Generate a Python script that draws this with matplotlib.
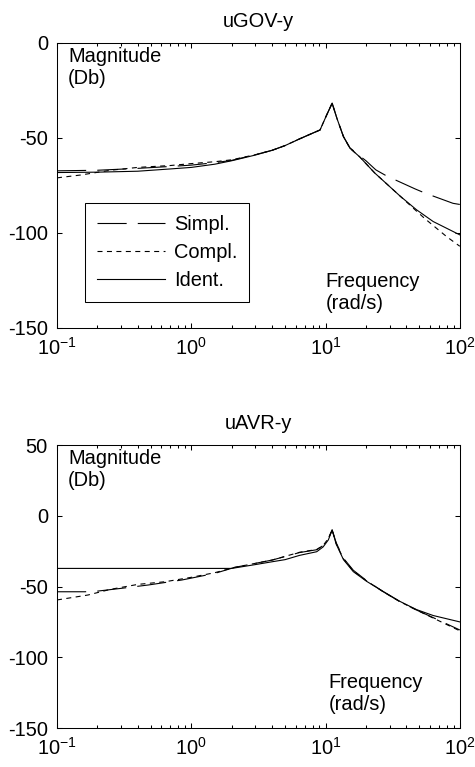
import matplotlib
matplotlib.use('Agg')
import matplotlib.pyplot as plt

plt.rcParams['font.family'] = ['Liberation Sans', 'DejaVu Sans']
plt.rcParams['font.size'] = 14.4
plt.rcParams['axes.unicode_minus'] = False
plt.rcParams['lines.scale_dashes'] = False
plt.rcParams['mathtext.default'] = 'regular'

# --- uGOV-y (magnitude in dB vs frequency in rad/s) ---
gov_simpl_w = [0.1, 0.2, 0.4, 0.7, 1, 1.5, 2, 3, 4, 5, 6.4, 8, 9.1, 10.2, 11.2,
               12.2, 13.6, 15.2, 18, 20, 23.7, 28.5, 46.4, 55, 89, 100]
gov_simpl_db = [-67.3, -67, -66, -65, -64.3, -63, -61.8, -58.8, -56.5, -54, -50.5, -47.5, -45.8, -37.9, -31.7,
                -40, -49.3, -55.2, -59.5, -62, -66.8, -70, -76.8, -79, -84.4, -85]

gov_compl_w = [0.1, 0.15, 0.25, 0.4, 0.7, 1, 1.5, 2, 3, 4, 5, 6.4, 8, 9.1, 10.2, 11.2,
               12.2, 13.6, 15.2, 18, 20, 23.3, 26.9, 35.8, 47.6, 55, 80, 100]
gov_compl_db = [-71, -69.5, -67, -65.5, -64.5, -63.5, -62.5, -61.5, -58.8, -56.5, -54, -50.5, -47.5, -45.8, -37.9, -31.7,
                -40, -49.3, -55.4, -60, -63.5, -68.5, -72.5, -80.5, -88.5, -92.5, -102, -107]

gov_ident_w = [0.1, 0.2, 0.4, 0.7, 1, 1.5, 2, 3, 4, 5, 6.4, 8, 9.1, 10.2, 11.2,
               12.2, 13.6, 15.2, 18, 20, 23.3, 26.9, 35.8, 47.6, 63.4, 100]
gov_ident_db = [-68.2, -68, -67.5, -66.3, -65.5, -63.8, -62, -59, -56.5, -54, -50.5, -47.5, -45.8, -37.9, -31.7,
                -40, -49.3, -55.4, -60, -63.5, -68.5, -72.5, -80.5, -87.8, -94, -101]

# --- uAVR-y ---
avr_simpl_w = [0.1, 0.16, 0.19, 0.3, 0.48, 0.85, 1.5, 2.1, 4, 6.4, 8.6, 9.6, 10.5, 11.2,
               12, 13.6, 16.1, 20.2, 26.9, 35.8, 47.6, 63.4, 100]
avr_simpl_db = [-53.7, -53.7, -53.5, -51.3, -48.9, -45.4, -40.7, -36.5, -31.3, -26, -24, -21, -16, -10,
                -19, -30, -38.5, -45.8, -53.7, -60.7, -66.6, -72, -80.7]

avr_compl_w = [0.1, 0.17, 0.25, 0.4, 0.64, 1, 1.5, 2.1, 4, 6.4, 8.6, 9.6, 10.5, 11.2,
               12, 13.6, 16.1, 20.2, 26.9, 35.8, 47.6, 63.4, 100]
avr_compl_db = [-59.5, -56, -52, -48.5, -46.6, -43.5, -40.2, -36.5, -31.3, -25.8, -23.8, -21, -16, -10,
                -19.5, -30.5, -39, -46, -53.7, -60.7, -66.6, -72.3, -81.3]

avr_ident_w = [0.1, 2.0, 3, 4, 5, 6.4, 8.6, 9.6, 10.5, 11.2,
               12, 13.6, 16.1, 20.2, 26.9, 35.8, 47.6, 63.4, 100]
avr_ident_db = [-37.2, -37.2, -34.5, -32.5, -31, -28, -25.4, -22, -17, -10,
                -20, -31, -39.5, -46.3, -53.5, -60.5, -66.3, -70.5, -75]

labels = ['Simpl.', 'Compl.', 'Ident.']
styles = [(0, (21, 8)), (0, (3.6, 3.2)), '-']


def setup(ax, title, ylim, yticks, freq_xy):
    ax.set_xscale('log')
    ax.set_xlim(0.1, 100)
    ax.set_ylim(*ylim)
    ax.set_yticks(yticks)
    ax.set_title(title, pad=11.5, fontsize=14.4)
    ax.tick_params(which='both', direction='in', top=True, right=True, width=0.75)
    ax.tick_params(which='major', length=3.5)
    ax.tick_params(which='minor', length=2.5)
    ax.tick_params(axis='y', pad=6.5)
    ax.tick_params(axis='x', pad=6.5)
    for s in ax.spines.values():
        s.set_linewidth(0.75)
    ax.text(0.027, 0.986, 'Magnitude\n(Db)', transform=ax.transAxes, va='top', ha='left')
    ax.text(freq_xy[0], freq_xy[1], 'Frequency\n(rad/s)', va='top', ha='left')


fig = plt.figure(figsize=(4.75, 7.67), dpi=100)
ax1 = fig.add_axes([0.12, 0.5724, 0.848, 0.3716])
ax2 = fig.add_axes([0.12, 0.0508, 0.848, 0.369])

gov = [(gov_simpl_w, gov_simpl_db), (gov_compl_w, gov_compl_db), (gov_ident_w, gov_ident_db)]
avr = [(avr_simpl_w, avr_simpl_db), (avr_compl_w, avr_compl_db), (avr_ident_w, avr_ident_db)]

for (w, db), lab, ls in zip(gov, labels, styles):
    ax1.plot(w, db, color='black', linestyle=ls, linewidth=0.8, label=lab)
for (w, db), lab, ls in zip(avr, labels, styles):
    ax2.plot(w, db, color='black', linestyle=ls, linewidth=0.8, label=lab)

setup(ax1, 'uGOV-y', (-150, 0), [-150, -100, -50, 0], (10, -120.5))
setup(ax2, 'uAVR-y', (-150, 50), [-150, -100, -50, 0, 50], (10.5, -111))

leg = ax1.legend(loc='upper left', bbox_to_anchor=(0.069, 0.439), fontsize=14.4,
                 fancybox=False, framealpha=1, edgecolor='black', borderpad=0.6,
                 labelspacing=0.45, handlelength=3.4, handletextpad=0.45,
                 borderaxespad=0)
leg.get_frame().set_linewidth(0.75)

fig.savefig('out.png', dpi=100)
